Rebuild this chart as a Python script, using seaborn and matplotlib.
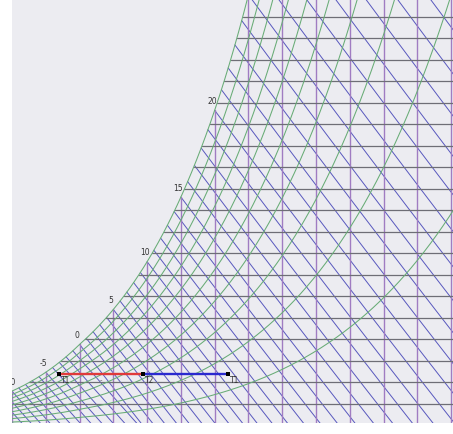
import numpy as np
import pandas as pd
import matplotlib
matplotlib.use("Agg")
import matplotlib.pyplot as plt
import seaborn as sns

# ---------------- chart parameters / data ----------------
P_ATM = 101325.0
rh_levels = [10, 20, 30, 40, 50, 60, 70, 80, 90, 100]          # % relative humidity curves
isotherms = list(range(-10, 60, 5))                             # dry-bulb grid, degC
w_levels = list(range(1, 20))                                   # humidity-ratio grid, g/kg
wetbulb_levels = list(range(-15, 33))                           # wet-bulb lines, degC
dew_labels = [-10, -5, 0, 5, 10, 15, 20]                        # labels on saturation curve

# process (heating / cooling at constant humidity ratio)
proc_names = ["T1", "T2", "T1"]
proc_T = [-3.1, 9.4, 21.9]          # degC
proc_W = [2.38, 2.38, 2.38]         # g/kg

XLIM = (-10.0, 55.28)
YLIM = (0.116, 19.79)

# ---------------- psychrometric relations ----------------
def p_sat(t):
    t = np.asarray(t, dtype=float)
    water = 610.94 * np.exp(17.625 * t / (t + 243.04))
    ice = 611.15 * np.exp(22.452 * t / (272.55 + t))
    return np.where(t >= 0, water, ice)

def w_from_pv(pv):
    return 1000.0 * 0.621945 * pv / (P_ATM - pv)   # g/kg

def w_sat(t):
    return w_from_pv(p_sat(t))

def w_wetbulb(t, twb):
    ws = w_sat(twb) / 1000.0
    if twb >= 0:
        w = ((2501 - 2.326 * twb) * ws - 1.006 * (t - twb)) / (2501 + 1.86 * t - 4.186 * twb)
    else:
        w = ((2830 - 0.24 * twb) * ws - 1.006 * (t - twb)) / (2830 + 1.86 * t - 2.1 * twb)
    return 1000.0 * w

t_fine = np.linspace(-16, 60, 800)
ws_fine = w_sat(t_fine)

def t_dew(w):
    return np.interp(w, ws_fine, t_fine)

# ---------------- build line tables ----------------
rows = []
for rh in rh_levels:
    t = np.linspace(-12, 58, 300)
    w = w_from_pv(rh / 100.0 * p_sat(t))
    for a, b in zip(t, w):
        rows.append(("rh%d" % rh, a, b))
df_rh = pd.DataFrame(rows, columns=["id", "T", "W"])

rows = []
for tv in isotherms:
    for b in (0.0, float(w_sat(tv))):
        rows.append(("t%d" % tv, tv, b))
df_iso = pd.DataFrame(rows, columns=["id", "T", "W"])

rows = []
for wv in w_levels:
    for a in (float(t_dew(wv)), 60.0):
        rows.append(("w%d" % wv, a, wv))
df_w = pd.DataFrame(rows, columns=["id", "T", "W"])

rows = []
for twb in wetbulb_levels:
    t = np.linspace(twb, twb + 70, 60)
    w = np.array([w_wetbulb(x, twb) for x in t])
    keep = w >= -0.5
    for a, b in zip(t[keep], w[keep]):
        rows.append(("b%d" % twb, a, b))
df_wb = pd.DataFrame(rows, columns=["id", "T", "W"])

df_proc = pd.DataFrame({"name": proc_names, "T": proc_T, "W": proc_W})

# ---------------- drawing ----------------
sns.set_style("white")
fig = plt.figure(figsize=(4.53, 4.34), dpi=100, facecolor="white")
ax = fig.add_axes([12 / 453, 11 / 434, 441 / 453, 423 / 434])
ax.set_facecolor("#ECECF1")

sns.lineplot(data=df_wb, x="T", y="W", units="id", estimator=None, sort=False,
             color="#5858BE", lw=0.7, ax=ax, zorder=2)
sns.lineplot(data=df_iso, x="T", y="W", units="id", estimator=None, sort=False,
             color="#A07CC2", lw=1.0, ax=ax, zorder=3)
sns.lineplot(data=df_w, x="T", y="W", units="id", estimator=None, sort=False,
             color="#6E6E76", lw=0.9, ax=ax, zorder=3)
sns.lineplot(data=df_rh, x="T", y="W", units="id", estimator=None, sort=False,
             color="#68AC76", lw=0.75, ax=ax, zorder=4)

# dew-point labels on the saturation curve
for tv in dew_labels:
    ax.annotate(str(tv), (tv, float(w_sat(tv))), xytext=(-2.5, 9),
                textcoords="offset pixels", ha="center", va="center",
                fontsize=5.5, color="#333333", annotation_clip=False, clip_on=True)

# process lines
seg1 = df_proc.iloc[0:2]
seg2 = df_proc.iloc[1:3]
sns.lineplot(data=seg1, x="T", y="W", sort=False, color="#E03A3A", lw=1.7, ax=ax, zorder=6)
sns.lineplot(data=seg2, x="T", y="W", sort=False, color="#2A2ACF", lw=1.7, ax=ax, zorder=6)
sns.scatterplot(data=df_proc, x="T", y="W", marker="s", s=7, color="black",
                edgecolor="black", linewidth=0, ax=ax, zorder=7)
for _, r in df_proc.iterrows():
    ax.annotate(r["name"], (r["T"], r["W"]), xytext=(2, -2), textcoords="offset pixels",
                ha="left", va="top", fontsize=5.5, color="#333333", zorder=8)
for i in range(2):
    tm = 0.5 * (proc_T[i] + proc_T[i + 1])
    ax.annotate("-", (tm, proc_W[i]), xytext=(0, -6), textcoords="offset pixels",
                ha="center", va="center", fontsize=5, color="#555555", zorder=8)

ax.set_xlim(*XLIM)
ax.set_ylim(*YLIM)
ax.set_xlabel("")
ax.set_ylabel("")
ax.set_xticks([])
ax.set_yticks([])
for s in ax.spines.values():
    s.set_visible(False)
if ax.get_legend() is not None:
    ax.get_legend().remove()

fig.savefig("out.png", dpi=100, facecolor="white")
